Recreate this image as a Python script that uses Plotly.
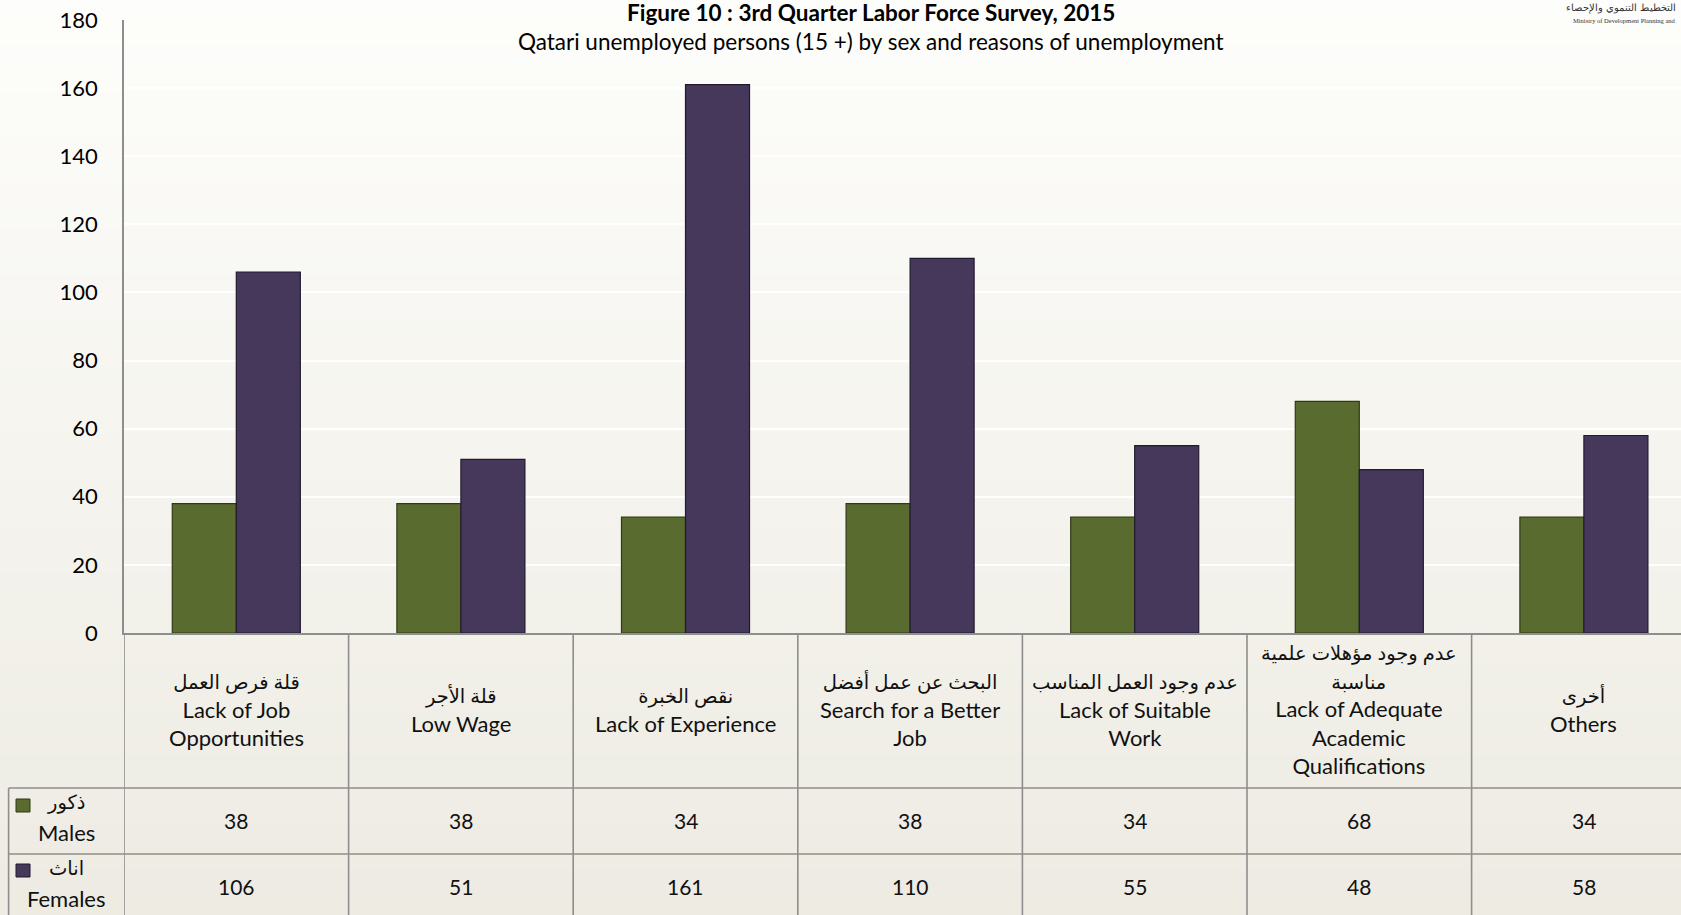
import plotly.graph_objects as go

# ---------------- data ----------------
categories_ar = ["قلة فرص العمل", "قلة الأجر", "نقص الخبرة", "البحث عن عمل أفضل",
                 "عدم وجود العمل المناسب", "عدم وجود مؤهلات علمية<br>مناسبة", "أخرى"]
categories_en = ["Lack of Job<br>Opportunities", "Low Wage", "Lack of Experience",
                 "Search for a Better<br>Job", "Lack of Suitable<br>Work",
                 "Lack of Adequate<br>Academic<br>Qualifications", "Others"]
categories_key = ["Lack of Job Opportunities", "Low Wage", "Lack of Experience",
                  "Search for a Better Job", "Lack of Suitable Work",
                  "Lack of Adequate Academic Qualifications", "Others"]
males = [38, 38, 34, 38, 34, 68, 34]
females = [106, 51, 161, 110, 55, 48, 58]
series_names_ar = ["ذكور", "اناث"]
series_names_en = ["Males", "Females"]
y_ticks = [0, 20, 40, 60, 80, 100, 120, 140, 160, 180]

title_main = "Figure 10 : 3rd Quarter Labor Force Survey, 2015"
title_sub = "Qatari unemployed persons (15 +) by sex and reasons of unemployment"

# ---------------- layout helpers ----------------
W, H = 1681, 915
L, R, T, B = 124, 0, 20, 282
PW = W - L - R
PH = H - T - B
COL_W = 224.6  # pixel width of one category column (last column runs off the page)
X_MAX = -0.5 + PW / COL_W

def px2x(X):
    return (X - L) / PW

def px2y(Y):
    return (H - B - Y) / PH

GREEN = "#5a6b30"
GREEN_D = "#2f3a15"
PURPLE = "#46385a"
PURPLE_D = "#221a2e"
LINE = "#8e8e8e"
FONT = "Lato, 'DejaVu Sans', sans-serif"

fig = go.Figure()
fig.add_trace(go.Bar(x=categories_key, y=males, name=series_names_en[0],
                     marker=dict(color=GREEN, line=dict(color=GREEN_D, width=1.2))))
fig.add_trace(go.Bar(x=categories_key, y=females, name=series_names_en[1],
                     marker=dict(color=PURPLE, line=dict(color=PURPLE_D, width=1.2))))

shapes = []
# background gradient (decorative)
n = 40
c0 = (253, 253, 251)
c1 = (237, 235, 226)
for i in range(n):
    t = i / (n - 1)
    col = tuple(round(c0[k] + (c1[k] - c0[k]) * t) for k in range(3))
    y_top = px2y(i * H / n)
    y_bot = px2y((i + 1) * H / n + 1)
    shapes.append(dict(type="rect", xref="paper", yref="paper", x0=px2x(0), x1=px2x(W),
                       y0=y_bot, y1=y_top, fillcolor="rgb(%d,%d,%d)" % col,
                       line=dict(width=0), layer="below"))

y_bottom = px2y(H + 5)
y_row1 = px2y(788)
y_row2 = px2y(854)
x_left = px2x(8.6)

# table grid lines
for k in range(len(categories_key)):
    shapes.append(dict(type="line", xref="x", yref="paper", x0=k - 0.5, x1=k - 0.5,
                       y0=0, y1=y_bottom, line=dict(color=LINE, width=1.6)))
shapes.append(dict(type="line", xref="paper", yref="paper", x0=x_left, x1=x_left,
                   y0=y_row1, y1=y_bottom, line=dict(color=LINE, width=1.6)))
for yy in (y_row1, y_row2):
    shapes.append(dict(type="line", xref="paper", yref="paper", x0=x_left, x1=1,
                       y0=yy, y1=yy, line=dict(color=LINE, width=1.6)))

# legend keys in the table
for (yk0, yk1), col, dcol in (((799, 812), GREEN, GREEN_D), ((864, 877), PURPLE, PURPLE_D)):
    shapes.append(dict(type="rect", xref="paper", yref="paper", x0=px2x(16), x1=px2x(30),
                       y0=px2y(yk1), y1=px2y(yk0), fillcolor=col,
                       line=dict(color=dcol, width=1)))

AR_SPAN = '<span style="font-size:19.5px">%s</span>'

annotations = []
annotations.append(dict(text="<b>" + title_main + "</b>", xref="paper", yref="paper",
                        x=px2x(871), y=px2y(12), showarrow=False, xanchor="center",
                        yanchor="middle", font=dict(size=22.5, color="#000", family=FONT)))
annotations.append(dict(text=title_sub, xref="paper", yref="paper",
                        x=px2x(871), y=px2y(41), showarrow=False, xanchor="center",
                        yanchor="middle", font=dict(size=22.5, color="#000", family=FONT)))
# logo text
annotations.append(dict(text="التخطيط التنموي والإحصاء", xref="paper", yref="paper",
                        x=px2x(W - 3), y=px2y(8), showarrow=False, xanchor="right",
                        yanchor="middle", font=dict(size=10, color="#333", family="DejaVu Serif, serif")))
annotations.append(dict(text="Ministry of Development Planning and", xref="paper", yref="paper",
                        x=px2x(W - 3), y=px2y(20), showarrow=False, xanchor="right",
                        yanchor="middle", font=dict(size=6.5, color="#333", family="Liberation Serif, serif")))

# category labels
for key, ar, en in zip(categories_key, categories_ar, categories_en):
    ar_lines = "<br>".join(AR_SPAN % s for s in ar.split("<br>"))
    annotations.append(dict(text=ar_lines + "<br>" + en, xref="x", yref="paper", x=key,
                            y=px2y(710), showarrow=False, xanchor="center", yanchor="middle",
                            align="center",
                            font=dict(size=22, color="#111", family=FONT)))
# values
for key, m, f in zip(categories_key, males, females):
    annotations.append(dict(text=str(m), xref="x", yref="paper", x=key, y=px2y(820),
                            showarrow=False, xanchor="center", yanchor="middle",
                            font=dict(size=21, color="#111", family=FONT)))
    annotations.append(dict(text=str(f), xref="x", yref="paper", x=key, y=px2y(886),
                            showarrow=False, xanchor="center", yanchor="middle",
                            font=dict(size=21, color="#111", family=FONT)))
# row headers
for (ya, ye), ar, en in zip(((802, 833), (867, 898)), series_names_ar, series_names_en):
    annotations.append(dict(text=ar, xref="paper", yref="paper", x=px2x(66), y=px2y(ya),
                            showarrow=False, xanchor="center", yanchor="middle",
                            font=dict(size=19.5, color="#111", family=FONT)))
    annotations.append(dict(text=en, xref="paper", yref="paper", x=px2x(66), y=px2y(ye),
                            showarrow=False, xanchor="center", yanchor="middle",
                            font=dict(size=22, color="#111", family=FONT)))

fig.update_layout(
    width=W, height=H,
    margin=dict(l=L, r=R, t=T, b=B, pad=0),
    paper_bgcolor="#f4f3ee",
    plot_bgcolor="rgba(0,0,0,0)",
    barmode="group",
    bargap=0.43,
    bargroupgap=0,
    showlegend=False,
    shapes=shapes,
    annotations=annotations,
    font=dict(family=FONT, color="#000"),
    xaxis=dict(type="category", range=[-0.5, X_MAX],
               showticklabels=False, ticks="", showgrid=False, zeroline=False,
               showline=True, linecolor=LINE, linewidth=2, fixedrange=True),
    yaxis=dict(range=[0, 180], tickvals=y_ticks, ticks="", showgrid=True,
               gridcolor="#ffffff", gridwidth=2, zeroline=False, showline=True,
               linecolor=LINE, linewidth=1.6, ticklabelstandoff=20,
               tickfont=dict(size=22, color="#000", family=FONT), fixedrange=True),
)

fig.write_html("out.html", config={"displayModeBar": False},
               post_script="document.body.style.margin='0';document.body.style.overflow='hidden';")
